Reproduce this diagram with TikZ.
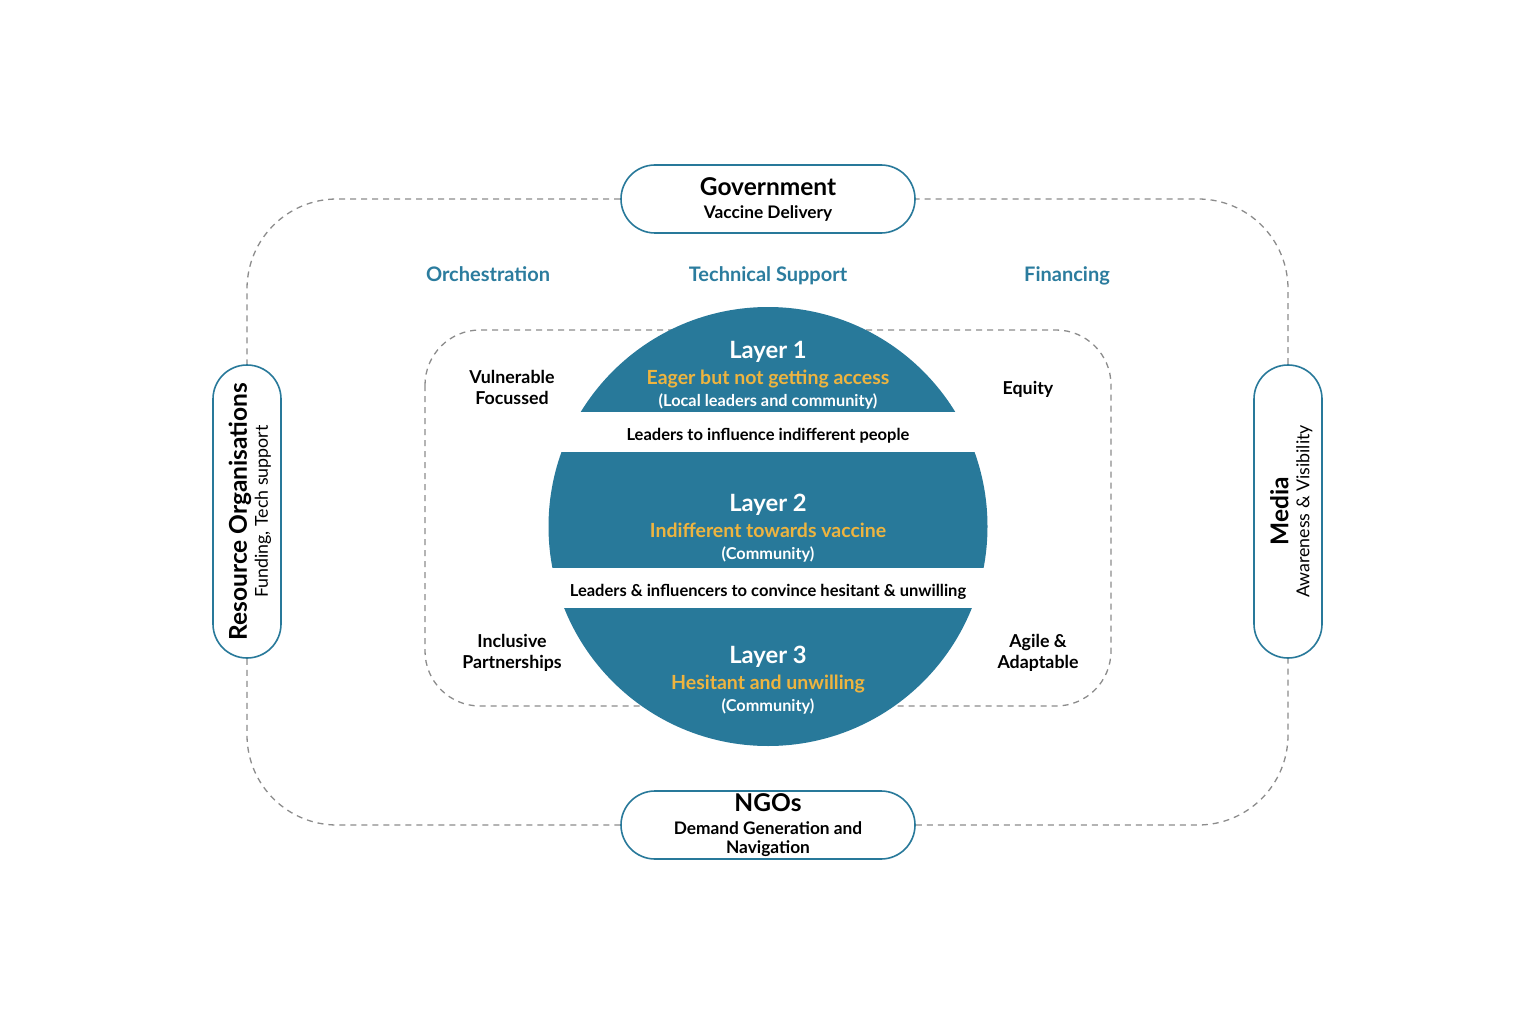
\documentclass[tikz,border=0pt]{standalone}
\usepackage{fontspec}
\setmainfont{Lato}
\usepackage{tikz}
\usetikzlibrary{positioning}
\definecolor{layerblue}{HTML}{28799A}
\definecolor{headblue}{HTML}{2B7C9E}
\definecolor{eagerorange}{HTML}{EEB43F}
\definecolor{ringgrey}{HTML}{8C8C8C}
\tikzset{
x=1pt, y=-1pt, % one unit is one pixel of the drawing, y runs downwards
pill/.style={draw=layerblue, line width=1.6pt, fill=white, rounded corners=34pt, minimum width=294pt, minimum height=68pt, inner sep=0pt, align=center, font=\bfseries\fontsize{17.3}{23}\selectfont}, % the four actor boxes
ringline/.style={draw=ringgrey, line width=1.3pt, dash pattern=on 6pt off 5pt, rounded corners=90pt}, % outer dashed ring through the actors
innerline/.style={draw=ringgrey, line width=1.3pt, dash pattern=on 6pt off 5pt, rounded corners=55pt}, % inner dashed frame
layertext/.style={align=center, text=white, inner sep=0pt, font=\bfseries\fontsize{16.3}{22}\selectfont}, % text inside the circle
bandtext/.style={fill=white, minimum width=470pt, minimum height=40pt, inner sep=0pt, text height=20pt, text depth=4pt, font=\bfseries\fontsize{16.5}{18}\selectfont}, % white gaps between the layers
headtext/.style={text=headblue, inner sep=0pt, text height=15pt, text depth=5pt, font=\bfseries\fontsize{20}{24}\selectfont}, % the three blue headings
cornertext/.style={align=center, inner sep=0pt, font=\bfseries\fontsize{17.8}{21}\selectfont}, % the four principles
}

\begin{document}
\begin{tikzpicture}

            \fill[white] (0,0) rectangle (1536,1024);
            \useasboundingbox (0,0) rectangle (1536,1024);

            \draw[innerline] (425,330) rectangle (1111,706);

            \node[pill] (gov) at (768,199) {{\fontsize{24.5}{24}\selectfont Government}\\Vaccine Delivery};
            \node[pill] (ngo) at (768,825) {{\fontsize{24.5}{24}\selectfont NGOs}\\Demand Generation and\\[-4pt]Navigation};
            \node[pill, rotate=90, minimum width=293pt] (res) at (247,511.5) {{\fontsize{24.5}{24}\selectfont\rule{0pt}{24pt}Resource Organisations}\\[-2pt]{\mdseries\fontsize{17.8}{20}\selectfont Funding, Tech support}};
            \node[pill, rotate=90, minimum width=293pt] (media) at (1288,511.5) {{\fontsize{24.5}{24}\selectfont\rule{0pt}{25pt}Media}\\[-2pt]{\mdseries\fontsize{17.8}{20}\selectfont Awareness \& Visibility}};

            \node[headtext, below of=gov, node distance=77pt] (tech) {Technical Support};
            \node[headtext, left of=tech, node distance=280pt] (orch) {Orchestration};
            \node[headtext, right of=tech, node distance=299pt] (fin) {Financing};

            \node[circle, fill=layerblue, minimum size=439pt, inner sep=0pt] (layers) at (768,526.5) {};
            \node[bandtext, above of=layers, node distance=94.5pt] (band1) {Leaders to influence indifferent people};
            \node[bandtext, below of=layers, node distance=61.5pt] (band2) {Leaders \& influencers to convince hesitant \& unwilling};

            \node[layertext, below of=layers, node distance=2pt] (l2) {{\fontsize{23.8}{22}\selectfont Layer 2}\\[4pt]{\color{eagerorange}\fontsize{19.5}{22}\selectfont Indifferent towards vaccine}\\(Community)};
            \node[layertext, above of=l2, node distance=153pt] (l1) {{\fontsize{23.8}{22}\selectfont Layer 1}\\[4pt]{\color{eagerorange}\fontsize{19.5}{22}\selectfont Eager but not getting access}\\(Local leaders and community)};
            \node[layertext, below of=l2, node distance=151.5pt] (l3) {{\fontsize{23.8}{22}\selectfont Layer 3}\\[4pt]{\color{eagerorange}\fontsize{19.5}{22}\selectfont Hesitant and unwilling}\\(Community)};

            \node[cornertext] (vuln) at (512,387.5) {Vulnerable\\Focussed};
            \node[cornertext] (equity) at (1028,389) {Equity};
            \node[cornertext] (incl) at (512,652.5) {Inclusive\\Partnerships};
            \node[cornertext] (agile) at (1038,652.5) {Agile \&\\Adaptable};

            \draw[ringline] (gov.west) -| (res.east);
            \draw[ringline] (res.west) |- (ngo.west);
            \draw[ringline] (ngo.east) -| (media.west);
            \draw[ringline] (media.east) |- (gov.east);
        \end{tikzpicture}
\end{document}
